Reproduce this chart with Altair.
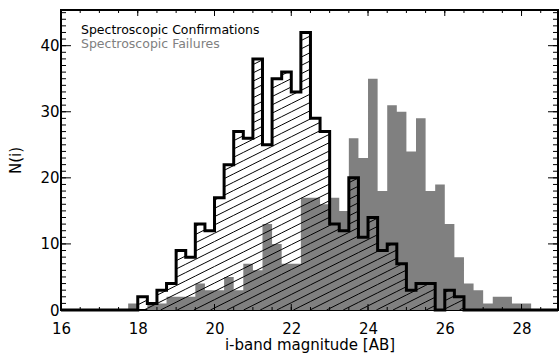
import altair as alt
import pandas as pd
import numpy as np

# ---------------- data ----------------
bin_width = 0.25
conf_start = 18.0
conf_counts = [2, 1, 3, 4, 9, 8, 13, 12, 17, 22,
               27, 26, 38, 25, 35, 36, 33, 42, 29, 27,
               13, 12, 20, 11, 14, 9, 10, 7, 3, 4,
               4, 0, 3, 2]
fail_start = 17.75
fail_counts = [1, 0, 1, 1, 2, 2, 2, 4, 3, 3,
               5, 3, 7, 6, 13, 10, 7, 7, 17, 17,
               16, 17, 15, 26, 23, 35, 18, 31, 30, 24,
               29, 18, 19, 13, 8, 4, 3, 1, 2, 2,
               1, 1]
x_major = [16, 18, 20, 22, 24, 26, 28]
y_major = [0, 10, 20, 30, 40]
legend_labels = ["Spectroscopic Confirmations", "Spectroscopic Failures"]

# ---------------- layout ----------------
XMIN, XMAX = 16.0, 28.95
YMIN, YMAX = 0.0, 45.4
W, H = 497, 300
FONT = "DejaVu Sans"
GRAY = "#808080"

xs = alt.Scale(domain=[XMIN, XMAX], nice=False, zero=False)
ys = alt.Scale(domain=[YMIN, YMAX], nice=False, zero=False)
x_axis = alt.Axis(values=x_major, ticks=False, domain=False, grid=False,
                  labelFont=FONT, labelFontSize=15, labelColor="black",
                  labelPadding=11, labelFlush=False,
                  title="i-band magnitude [AB]", titleFont=FONT, titleFontSize=15,
                  titleFontWeight="normal", titleColor="black",
                  titleBaseline="alphabetic", titleY=39)
y_axis = alt.Axis(values=y_major, ticks=False, domain=False, grid=False,
                  labelFont=FONT, labelFontSize=15, labelColor="black",
                  labelPadding=2, labelFlush=False,
                  title="N(i)", titleFont=FONT, titleFontSize=15,
                  titleFontWeight="normal", titleColor="black",
                  titleBaseline="alphabetic", titleX=-41, titleY=H / 2, titleAngle=270)


def X(f):
    return alt.X(f"{f}:Q", scale=xs, axis=x_axis)


def Y(f):
    return alt.Y(f"{f}:Q", scale=ys, axis=y_axis)


# ---------------- tables ----------------
fail_x0 = [fail_start + i * bin_width for i in range(len(fail_counts))]
fail_df = pd.DataFrame({
    "x": fail_x0 + [fail_x0[-1] + bin_width],
    "n": fail_counts + [0],
})

conf_x0 = [conf_start + i * bin_width for i in range(len(conf_counts))]
step_df = pd.DataFrame({
    "x": [XMIN] + conf_x0 + [conf_x0[-1] + bin_width, XMAX],
    "n": [0] + conf_counts + [0, 0],
})

# hatch segments ("/" lines) clipped to each confirmation bin
sx = W / (XMAX - XMIN)
sy = H / (YMAX - YMIN)
slope = 0.5      # pixel slope of hatch lines
spacing = 8.3    # vertical pixel spacing between hatch lines
segs = []
k_lo = int(np.floor((-slope * W - spacing) / spacing))
k_hi = int(np.ceil((H + spacing) / spacing))
for x0, h in zip(conf_x0, conf_counts):
    if h <= 0:
        continue
    X0 = (x0 - XMIN) * sx
    X1 = (x0 + bin_width - XMIN) * sx
    Hp = h * sy
    for k in range(k_lo, k_hi + 1):
        c = k * spacing
        a = max(X0, -c / slope)
        b = min(X1, (Hp - c) / slope)
        if b - a > 1e-6:
            segs.append({
                "hx": XMIN + a / sx, "hy": (slope * a + c) / sy,
                "hx2": XMIN + b / sx, "hy2": (slope * b + c) / sy,
            })
hatch_df = pd.DataFrame(segs)

xmaj_df = pd.DataFrame({"t": x_major})
xmin_df = pd.DataFrame({"t": [16 + 0.5 * i for i in range(int((XMAX - 16) / 0.5) + 1)]})
ymaj_df = pd.DataFrame({"t": y_major})
ymin_df = pd.DataFrame({"t": list(range(0, int(YMAX) + 1))})

# ---------------- layers ----------------
gray = alt.Chart(fail_df).mark_area(
    color=GRAY, interpolate="step-after", opacity=1).encode(
    x=X("x"), y=Y("n"))

hatch = alt.Chart(hatch_df).mark_rule(color="black", strokeWidth=1).encode(
    x=X("hx"), y=Y("hy"), x2="hx2", y2="hy2")

outline = alt.Chart(step_df).mark_line(
    color="black", strokeWidth=3, interpolate="step-after", clip=False).encode(
    x=X("x"), y=Y("n"))

tick_kw = dict(color="black", strokeWidth=1)
xt_bot_maj = alt.Chart(xmaj_df).mark_rule(**tick_kw).encode(
    x=X("t"), y=alt.value(H), y2=alt.value(H - 6))
xt_top_maj = alt.Chart(xmaj_df).mark_rule(**tick_kw).encode(
    x=X("t"), y=alt.value(0), y2=alt.value(6))
xt_bot_min = alt.Chart(xmin_df).mark_rule(**tick_kw).encode(
    x=X("t"), y=alt.value(H), y2=alt.value(H - 3))
xt_top_min = alt.Chart(xmin_df).mark_rule(**tick_kw).encode(
    x=X("t"), y=alt.value(0), y2=alt.value(3))
yt_l_maj = alt.Chart(ymaj_df).mark_rule(**tick_kw).encode(
    y=Y("t"), x=alt.value(0), x2=alt.value(10))
yt_r_maj = alt.Chart(ymaj_df).mark_rule(**tick_kw).encode(
    y=Y("t"), x=alt.value(W), x2=alt.value(W - 10))
yt_l_min = alt.Chart(ymin_df).mark_rule(**tick_kw).encode(
    y=Y("t"), x=alt.value(0), x2=alt.value(5))
yt_r_min = alt.Chart(ymin_df).mark_rule(**tick_kw).encode(
    y=Y("t"), x=alt.value(W), x2=alt.value(W - 5))

leg1 = alt.Chart(pd.DataFrame({"label": [legend_labels[0]]})).mark_text(
    font=FONT, fontSize=12.5, align="left", baseline="alphabetic", color="black").encode(
    x=alt.value(20), y=alt.value(24), text="label:N")
leg2 = alt.Chart(pd.DataFrame({"label": [legend_labels[1]]})).mark_text(
    font=FONT, fontSize=12.5, align="left", baseline="alphabetic", color=GRAY).encode(
    x=alt.value(20), y=alt.value(37.5), text="label:N")

chart = alt.layer(
    gray, hatch, outline,
    xt_bot_maj, xt_top_maj, xt_bot_min, xt_top_min,
    yt_l_maj, yt_r_maj, yt_l_min, yt_r_min,
    leg1, leg2,
).properties(
    width=W, height=H,
    padding={"left": 61, "top": 10, "right": 1, "bottom": 48},
    autosize=alt.AutoSizeParams(type="none"),
    background="white",
).configure_view(stroke="black", strokeWidth=2)

chart.save("out.html", embed_options={"renderer": "svg", "actions": False})
